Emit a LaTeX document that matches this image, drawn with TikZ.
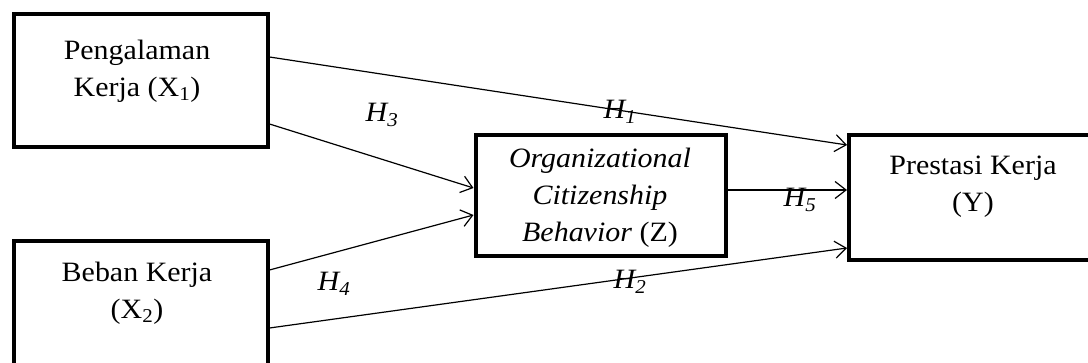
\documentclass[tikz,border=0pt]{standalone}
\usepackage{fontspec}
\setmainfont{Liberation Serif}
\usetikzlibrary{arrows.meta}
\begin{document}
\begin{tikzpicture}[x=1pt,y=-1pt,
  box/.style={draw=black, line width=4pt, inner sep=0pt, rectangle},
  txt/.style={align=center, inner sep=0pt, xscale=1.07, font=\fontsize{28}{37}\selectfont},
  lab/.style={inner sep=0pt, xscale=1.07, font=\fontsize{28}{30}\selectfont\itshape},
  arr/.style={-{Straight Barb[length=11pt,width=17pt]}, line width=1.2pt}]
\useasboundingbox (0,0) rectangle (1088,363);
% boxes
\node[box, minimum width=253.5pt, minimum height=133pt] (x1) at (140.75,80.5) {};
\node[box, minimum width=253.5pt, minimum height=159pt] (x2) at (140.75,320.5) {};
\node[box, minimum width=250pt, minimum height=121.5pt] (z) at (600.5,195.75) {};
\node[box, minimum width=251pt, minimum height=125.5pt] (y) at (974.5,197.75) {};
% texts
\node[txt] (tx1) at (137,71) {Pengalaman\\Kerja (X\textsubscript{1})};
\node[txt] (tx2) at (137,293) {Beban Kerja\\(X\textsubscript{2})};
\node[txt] (tz) at (600,198) {\textit{Organizational}\\\textit{Citizenship}\\\textit{Behavior} (Z)};
\node[txt] (ty) at (973,187) {Prestasi Kerja\\(Y)};
% arrows
\draw[arr] ([yshift=23.5pt]x1.east) -- ([yshift=52.75pt]y.west);
\draw[arr] ([yshift=-43.5pt]x1.east) -- ([yshift=7.75pt]z.west);
\draw[arr] ([yshift=50.5pt]x2.east) -- ([yshift=-19.25pt]z.west);
\draw[arr] ([yshift=-7.5pt]x2.east) -- ([yshift=-50.25pt]y.west);
\draw[arr] ([yshift=5.75pt]z.east) -- ([yshift=7.75pt]y.west);
% labels
\node[lab] (h3) at (382,115) {H\textsubscript{3}};
\node[lab] (h1) at (620,112) {H\textsubscript{1}};
\node[lab] (h4) at (334,284) {H\textsubscript{4}};
\node[lab] (h2) at (630,282) {H\textsubscript{2}};
\node[lab] (h5) at (800,200) {H\textsubscript{5}};
\end{tikzpicture}
\end{document}
